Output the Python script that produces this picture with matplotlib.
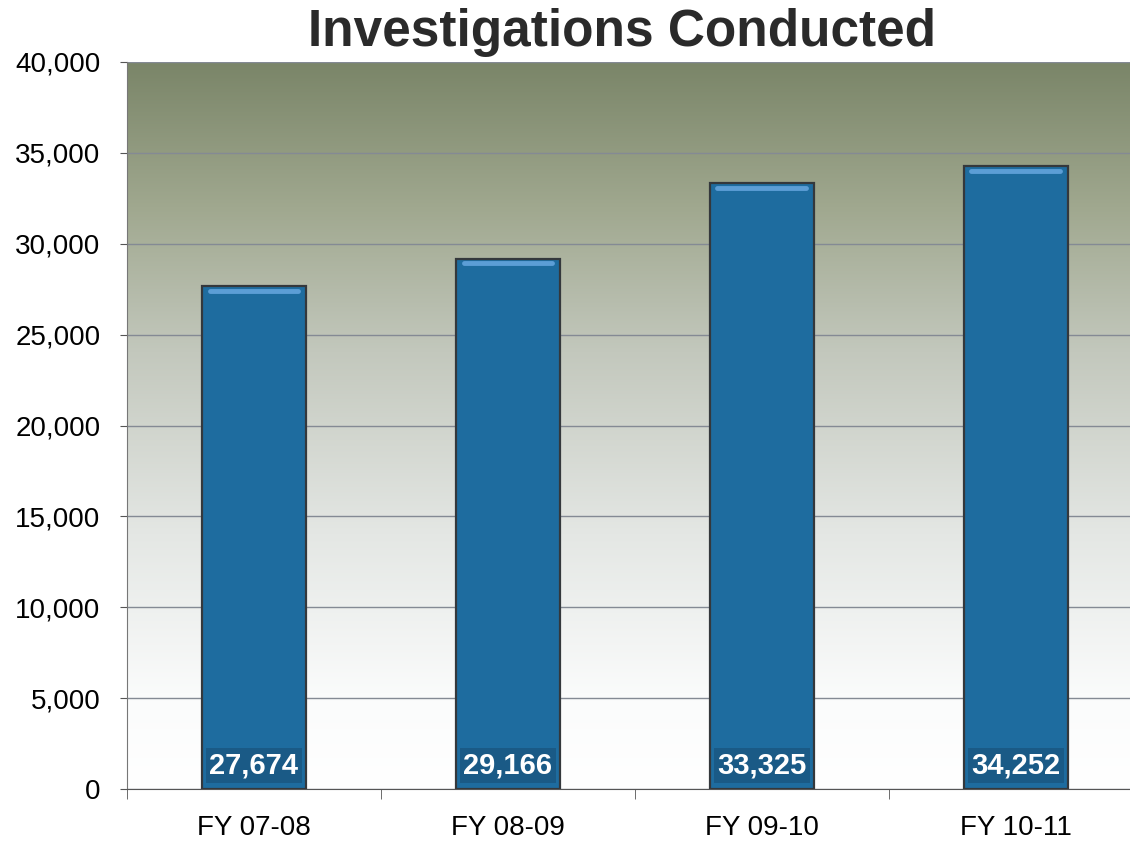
import numpy as np
import matplotlib.pyplot as plt
from matplotlib.colors import LinearSegmentedColormap
from matplotlib.ticker import FuncFormatter

# Données
categories = ['FY 07-08', 'FY 08-09', 'FY 09-10', 'FY 10-11']
values = [27674, 29166, 33325, 34252]
y_ticks = [0, 5000, 10000, 15000, 20000, 25000, 30000, 35000, 40000]

plt.rcParams['font.family'] = ['Liberation Sans', 'DejaVu Sans']

fig = plt.figure(figsize=(11.30, 8.42), dpi=100)
ax = fig.add_axes([0.1124, 0.0629, 0.899, 0.8635])

x = np.arange(len(categories))
ax.set_xlim(-0.5, len(categories) - 0.5)
ax.set_ylim(0, 40000)

# Fond en dégradé (olive en haut -> blanc en bas)
grad_cmap = LinearSegmentedColormap.from_list(
    'bg', [(0.0, '#ffffff'), (0.12, '#fbfcfc'), (0.35, '#e4e7e4'),
           (0.6, '#c3c8bd'), (0.8, '#a0a88f'), (1.0, '#7a8568')])
grad = np.linspace(0, 1, 256).reshape(-1, 1)
ax.imshow(grad, cmap=grad_cmap, aspect='auto', origin='lower',
          extent=[-0.5, len(categories) - 0.5, 0, 40000], zorder=0)

# Grille
ax.set_yticks(y_ticks)
ax.yaxis.set_major_formatter(FuncFormatter(lambda v, p: f'{int(v):,}'))
ax.grid(axis='y', color='#848a94', linewidth=1.0, zorder=1)

# Barres
bars = ax.bar(x, values, width=0.41, color='#1e6c9f', edgecolor='#34383c',
              linewidth=1.6, zorder=3)

# Reflet en haut des barres
for b in bars:
    ax.plot([b.get_x() + 0.03, b.get_x() + b.get_width() - 0.03],
            [b.get_height() - 250] * 2, color='#5c9ed6', linewidth=3.5,
            solid_capstyle='round', zorder=4)

# Étiquettes de valeurs
for xi, v in zip(x, values):
    ax.text(xi, 1300, f'{v:,}', ha='center', va='center', color='white',
            fontsize=21, fontweight='bold', zorder=5,
            bbox=dict(boxstyle='square,pad=0.12', facecolor='#1a5a86',
                      edgecolor='none'))

# Axes
ax.set_xticks(x)
ax.set_xticklabels(categories, fontsize=20)
ax.set_xticks(np.arange(-0.5, len(categories), 1), minor=True)
ax.tick_params(axis='x', which='major', length=0, pad=19)
ax.tick_params(axis='x', which='minor', length=7, color='#555555')
ax.tick_params(axis='y', labelsize=20, length=5, color='#555555', pad=14)

for side in ['top', 'right']:
    ax.spines[side].set_visible(False)
ax.spines['left'].set_color('#777777')
ax.spines['bottom'].set_color('#555555')

fig.text(0.55, 0.961, 'Investigations Conducted', ha='center', va='center',
         fontsize=37, fontweight='bold', color='#2a2a2a')

fig.savefig('out.png', dpi=100)
